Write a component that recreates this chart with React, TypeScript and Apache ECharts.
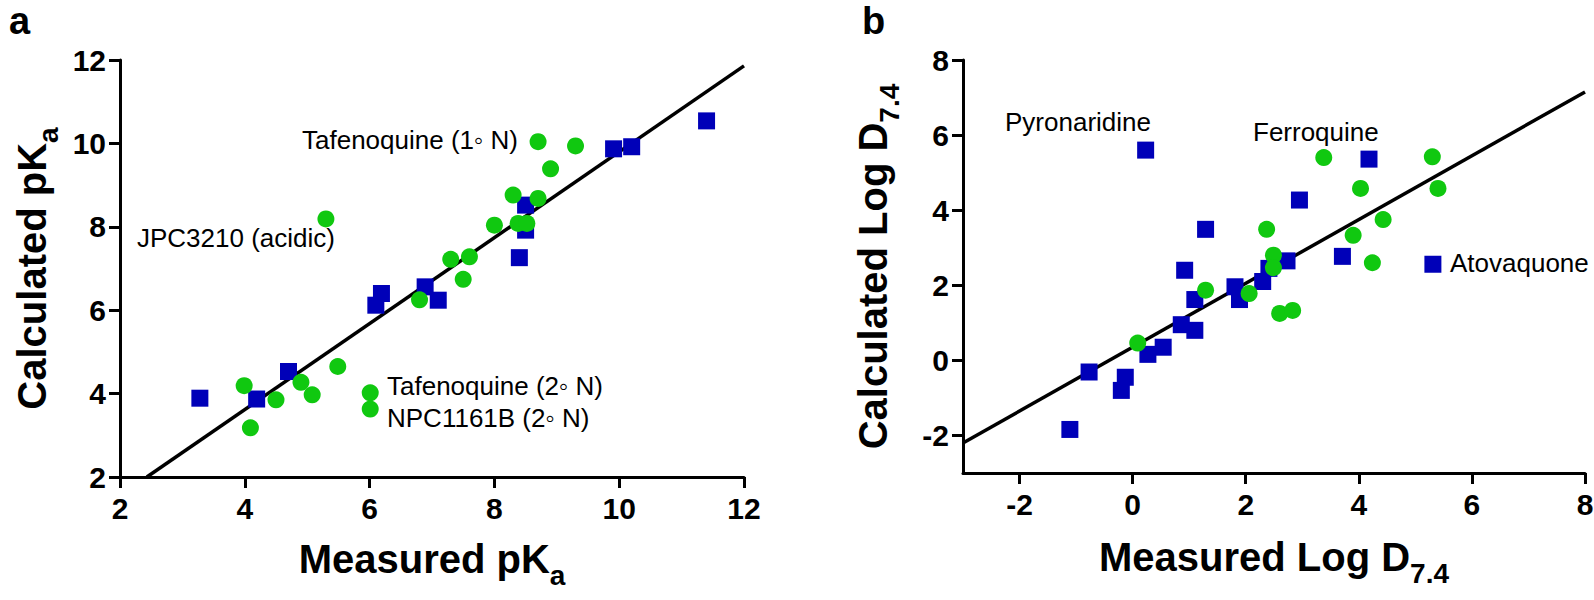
import React, { useEffect, useRef } from "react";
import * as echarts from "echarts";

const pkaTicks = [2, 4, 6, 8, 10, 12];
const logdTicks = [-2, 0, 2, 4, 6, 8];

// Panel a: measured vs calculated pKa
const pkaGreen = [
  [8.7, 10.04], [9.3, 9.94], [8.9, 9.39], [8.3, 8.76], [8.7, 8.68], [8.0, 8.04],
  [8.38, 8.08], [8.52, 8.08], [7.3, 7.22], [7.6, 7.28], [7.5, 6.74], [6.8, 6.25],
  [5.3, 8.19], [3.99, 4.19], [4.09, 3.18], [4.5, 3.85], [4.9, 4.27], [5.08, 3.97],
  [5.49, 4.65], [6.01, 4.02], [6.01, 3.63],
];
const pkaBlue = [
  [11.4, 10.54], [9.91, 9.87], [10.2, 9.92], [8.5, 8.52], [8.5, 7.92], [8.4, 7.26],
  [6.89, 6.56], [7.1, 6.24], [6.1, 6.12], [6.19, 6.4], [3.28, 3.89], [4.19, 3.87],
  [4.7, 4.53],
];
const pkaLine = [[2.43, 2.0], [12, 11.86]];

// Panel b: measured vs calculated Log D7.4
const logdBlue = [
  [0.23, 5.6], [1.29, 3.49], [0.92, 2.4], [1.1, 1.62], [0.86, 0.95], [1.1, 0.8],
  [0.27, 0.16], [0.54, 0.35], [-0.77, -0.31], [-0.13, -0.45], [-0.2, -0.8],
  [-1.11, -1.84], [4.18, 5.36], [2.95, 4.27], [3.71, 2.77], [5.31, 2.56],
  [2.73, 2.65], [2.41, 2.45], [2.3, 2.1], [1.81, 1.96], [1.89, 1.62],
];
const logdGreen = [
  [1.29, 1.87], [0.09, 0.46], [3.38, 5.4], [5.3, 5.42], [4.03, 4.58], [5.4, 4.58],
  [4.43, 3.75], [3.9, 3.33], [2.37, 3.49], [4.24, 2.6], [2.49, 2.8], [2.49, 2.47],
  [2.06, 1.78], [2.6, 1.25], [2.83, 1.33],
];
const logdLine = [[-3, -2.2], [8, 7.15]];

const annotations = [
  { text: "Tafenoquine (1\u25E6 N)", x: 302, y: 140 },
  { text: "JPC3210 (acidic)", x: 137, y: 238 },
  { text: "Tafenoquine (2\u25E6 N)", x: 387, y: 386 },
  { text: "NPC1161B (2\u25E6 N)", x: 387, y: 418 },
  { text: "Pyronaridine", x: 1005, y: 122 },
  { text: "Ferroquine", x: 1253, y: 132 },
  { text: "Atovaquone", x: 1450, y: 263 },
];

const BOLDFONT = "'Liberation Sans', Arial, sans-serif";
const SANS = "'Liberation Sans', Arial, sans-serif";
const GREEN = "#10c810";
const BLUE = "#0000b8";

function nameStyle() {
  return {
    color: "#000",
    fontSize: 40,
    fontWeight: "bold",
    fontFamily: BOLDFONT,
    lineHeight: 60,
    rich: {
      sub: {
        color: "#000",
        fontSize: 28,
        fontWeight: "bold",
        fontFamily: BOLDFONT,
        lineHeight: 28,
        verticalAlign: "bottom",
      },
    },
  };
}

const tickStyle = (vals: number[]) => ({
  inside: false,
  length: 11,
  lineStyle: { color: "#000", width: 3 },
  customValues: vals,
});

function axisBase(extra: any) {
  return {
    type: "value",
    axisLine: { onZero: false, lineStyle: { color: "#000", width: 3 } },
    splitLine: { show: false },
    nameLocation: "middle",
    nameTextStyle: nameStyle(),
    ...extra,
    axisLabel: {
      color: "#000",
      fontSize: 30,
      fontWeight: "bold",
      fontFamily: BOLDFONT,
      ...(extra.axisLabel || {}),
    },
  };
}

export default function App() {
  const ref = useRef<HTMLDivElement>(null);
  useEffect(() => {
    if (!ref.current) return;
    const chart = echarts.init(ref.current, null, { renderer: "svg" });
    const option: any = {
      animation: false,
      backgroundColor: "#fff",
      grid: [
        { left: 120, right: 850, top: 60, bottom: 123, containLabel: false, outerBoundsMode: "none" },
        { left: 963, right: 9, top: 60, bottom: 127, containLabel: false, outerBoundsMode: "none" },
      ],
      xAxis: [
        axisBase({
          gridIndex: 0, min: 2, max: 12, interval: 2,
          name: "Measured pK{sub|a}", nameGap: 52,
          axisLabel: { margin: 16, customValues: pkaTicks },
          axisTick: tickStyle(pkaTicks),
        }),
        axisBase({
          gridIndex: 1, min: -3, max: 8,
          name: "Measured Log D{sub|7.4}", nameGap: 54,
          axisLabel: { margin: 16, customValues: logdTicks },
          axisTick: tickStyle(logdTicks),
        }),
      ],
      yAxis: [
        axisBase({
          gridIndex: 0, min: 2, max: 12, interval: 2,
          name: "Calculated pK{sub|a}", nameGap: 58,
          axisLabel: { margin: 14, customValues: pkaTicks },
          axisTick: tickStyle(pkaTicks),
        }),
        axisBase({
          gridIndex: 1, min: -3, max: 8,
          name: "Calculated Log D{sub|7.4}", nameGap: 60,
          axisLabel: { margin: 14, customValues: logdTicks },
          axisTick: tickStyle(logdTicks),
        }),
      ],
      series: [
        {
          type: "line", xAxisIndex: 0, yAxisIndex: 0, data: pkaLine, showSymbol: false,
          lineStyle: { color: "#000", width: 3.5 }, z: 1, silent: true,
        },
        {
          type: "scatter", xAxisIndex: 0, yAxisIndex: 0, data: pkaBlue, symbol: "rect",
          symbolSize: 17, itemStyle: { color: BLUE, opacity: 1 }, z: 2,
        },
        {
          type: "scatter", xAxisIndex: 0, yAxisIndex: 0, data: pkaGreen, symbol: "circle",
          symbolSize: 17, itemStyle: { color: GREEN, opacity: 1 }, z: 3,
        },
        {
          type: "line", xAxisIndex: 1, yAxisIndex: 1, data: logdLine, showSymbol: false,
          lineStyle: { color: "#000", width: 3.5 }, z: 1, silent: true,
        },
        {
          type: "scatter", xAxisIndex: 1, yAxisIndex: 1, data: logdBlue, symbol: "rect",
          symbolSize: 17, itemStyle: { color: BLUE, opacity: 1 }, z: 2,
        },
        {
          type: "scatter", xAxisIndex: 1, yAxisIndex: 1, data: logdGreen, symbol: "circle",
          symbolSize: 17, itemStyle: { color: GREEN, opacity: 1 }, z: 3,
        },
      ],
      graphic: [
        ...annotations.map((a) => ({
          type: "text", x: a.x, y: a.y, z: 10,
          style: { text: a.text, fill: "#000", fontSize: 26, fontFamily: SANS, align: "left", verticalAlign: "middle" },
        })),
        {
          type: "text", x: 9, y: 2, z: 10,
          style: { text: "a", fill: "#000", fontSize: 38, fontWeight: "bold", fontFamily: SANS, align: "left", verticalAlign: "top" },
        },
        {
          type: "text", x: 862, y: 2, z: 10,
          style: { text: "b", fill: "#000", fontSize: 38, fontWeight: "bold", fontFamily: SANS, align: "left", verticalAlign: "top" },
        },
      ],
    };
    chart.setOption(option);
    return () => chart.dispose();
  }, []);
  return (
    <div
      ref={ref}
      style={{ position: "fixed", left: 0, top: 0, width: 1594, height: 600, background: "#fff" }}
    />
  );
}
